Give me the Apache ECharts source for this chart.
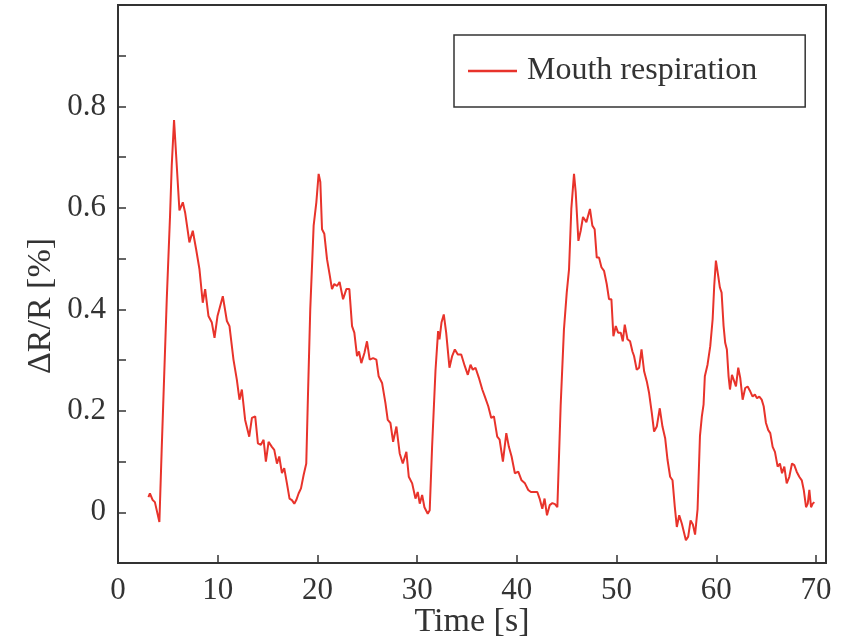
<!DOCTYPE html>
<html>
<head>
<meta charset="utf-8">
<script src="https://cdn.jsdelivr.net/npm/echarts@6/dist/echarts.min.js"></script>
<style>
  html, body { margin: 0; padding: 0; background: #fff; }
  #chart { width: 856px; height: 641px; }
</style>
</head>
<body>
<div id="chart"></div>
<script>
// 时间 (s)
const timeSec = [
  3.05, 3.2, 3.48, 3.7, 4.15, 4.38, 4.55, 4.89, 5.22, 5.39, 5.62, 5.89, 6.16, 6.5, 6.73, 7.16, 7.5, 7.83,
  8.17, 8.5, 8.74, 9.07, 9.41, 9.68, 9.98, 10.18, 10.51, 10.92, 11.18, 11.58, 11.92, 12.18, 12.42, 12.75,
  13.16, 13.43, 13.76, 14.03, 14.33, 14.6, 14.83, 15.1, 15.43, 15.67, 15.94, 16.17, 16.44, 16.67, 16.94,
  17.2, 17.44, 17.68, 17.88, 18.11, 18.35, 18.61, 18.88, 19.05, 19.28, 19.62, 19.89, 20.12, 20.29, 20.46,
  20.69, 20.96, 21.22, 21.46, 21.69, 21.96, 22.22, 22.57, 22.9, 23.2, 23.47, 23.7, 23.97, 24.17, 24.4,
  24.71, 24.97, 25.24, 25.58, 25.91, 26.14, 26.48, 26.82, 27.05, 27.32, 27.59, 27.92, 28.25, 28.56, 28.92,
  29.16, 29.5, 29.83, 30.06, 30.26, 30.5, 30.73, 31.06, 31.26, 31.5, 31.84, 32.1, 32.24, 32.44, 32.67,
  32.91, 33.24, 33.51, 33.78, 34.08, 34.42, 34.78, 35.08, 35.35, 35.58, 35.85, 36.19, 36.53, 36.79, 37.13,
  37.43, 37.7, 38.03, 38.27, 38.6, 38.94, 39.2, 39.47, 39.8, 40.14, 40.47, 40.81, 41.14, 41.41, 41.71,
  42.05, 42.28, 42.55, 42.78, 43.02, 43.29, 43.56, 43.82, 44.06, 44.39, 44.72, 45.0, 45.23, 45.46, 45.73,
  45.9, 46.17, 46.4, 46.63, 46.97, 47.33, 47.57, 47.8, 48.01, 48.24, 48.48, 48.74, 49.01, 49.24, 49.48,
  49.68, 49.92, 50.15, 50.42, 50.62, 50.82, 51.09, 51.35, 51.59, 51.75, 52.02, 52.26, 52.5, 52.76, 53.03,
  53.26, 53.53, 53.76, 54.03, 54.33, 54.6, 54.87, 55.11, 55.37, 55.61, 55.84, 56.04, 56.28, 56.54, 56.71,
  56.95, 57.18, 57.42, 57.65, 57.87, 58.12, 58.36, 58.55, 58.72, 58.85, 59.12, 59.39, 59.63, 59.79, 59.96,
  60.19, 60.36, 60.53, 60.73, 60.89, 61.06, 61.23, 61.37, 61.57, 61.8, 61.97, 62.2, 62.4, 62.64, 62.9,
  63.14, 63.41, 63.64, 63.87, 64.08, 64.31, 64.55, 64.75, 64.98, 65.21, 65.41, 65.65, 65.88, 66.15, 66.38,
  66.59, 66.82, 67.06, 67.32, 67.59, 67.82, 68.06, 68.32, 68.57, 68.77, 69.0, 69.17, 69.33, 69.5, 69.67,
  69.83
]
// ΔR/R (%)
const deltaR = [
  0.030, 0.037, 0.024, 0.020, -0.019, 0.123, 0.222, 0.42, 0.585, 0.684, 0.773, 0.684, 0.595, 0.611, 0.591, 0.532, 0.555, 0.519,
  0.479, 0.413, 0.44, 0.387, 0.374, 0.344, 0.387, 0.384, 0.426, 0.377, 0.367, 0.301, 0.261, 0.222, 0.242, 0.182,
  0.149, 0.186, 0.189, 0.136, 0.133, 0.143, 0.1, 0.139, 0.129, 0.123, 0.096, 0.11, 0.077, 0.087, 0.057,
  0.027, 0.024, 0.017, 0.024, 0.037, 0.047, 0.073, 0.096, 0.23, 0.4, 0.565, 0.611, 0.667, 0.651, 0.558,
  0.549, 0.499, 0.469, 0.44, 0.45, 0.446, 0.454, 0.42, 0.44, 0.44, 0.367, 0.354, 0.308, 0.317, 0.294,
  0.314, 0.337, 0.301, 0.304, 0.301, 0.268, 0.255, 0.215, 0.182, 0.176, 0.139, 0.169, 0.116, 0.096, 0.119,
  0.07, 0.057, 0.027, 0.04, 0.017, 0.034, 0.01, -0.003, 0.004, 0.13, 0.28, 0.357, 0.341, 0.374, 0.39,
  0.354, 0.285, 0.308, 0.321, 0.311, 0.311, 0.288, 0.271, 0.291, 0.281, 0.285, 0.265, 0.242, 0.228, 0.209,
  0.186, 0.189, 0.149, 0.143, 0.1, 0.156, 0.129, 0.11, 0.077, 0.08, 0.063, 0.057, 0.044, 0.04, 0.04,
  0.04, 0.027, 0.007, 0.027, -0.006, 0.014, 0.018, 0.016, 0.01, 0.21, 0.36, 0.433, 0.479, 0.598, 0.667,
  0.631, 0.535, 0.555, 0.582, 0.572, 0.598, 0.565, 0.558, 0.502, 0.502, 0.483, 0.476, 0.45, 0.42, 0.42,
  0.347, 0.367, 0.354, 0.354, 0.337, 0.37, 0.341, 0.337, 0.317, 0.308, 0.281, 0.285, 0.321, 0.278, 0.258,
  0.235, 0.196, 0.159, 0.169, 0.205, 0.169, 0.146, 0.103, 0.07, 0.063, 0.01, -0.029, -0.006, -0.022, -0.02,
  -0.055, -0.048, -0.016, -0.024, -0.044, 0.006, 0.15, 0.189, 0.212, 0.268, 0.291, 0.327, 0.38, 0.446, 0.496,
  0.466, 0.443, 0.433, 0.367, 0.334, 0.321, 0.268, 0.242, 0.271, 0.258, 0.248, 0.285, 0.265, 0.222, 0.245,
  0.248, 0.238, 0.228, 0.232, 0.225, 0.228, 0.222, 0.209, 0.176, 0.162, 0.156, 0.129, 0.119, 0.09, 0.096,
  0.077, 0.09, 0.057, 0.07, 0.096, 0.093, 0.08, 0.07, 0.063, 0.044, 0.01, 0.017, 0.044, 0.01, 0.017,
  0.02
]
// 刻度标签
const yTickLabels = [0, 0.2, 0.4, 0.6, 0.8]
const xTickLabels = [0, 10, 20, 30, 40, 50, 60, 70]

const serif = '"Liberation Serif", "DejaVu Serif", serif'
const axisColor = '#333'
const lineColor = '#e8332b'

let mycharts = echarts.init(document.getElementById('chart'))
mycharts.setOption({
  animation: false,
  grid: {
    left: 118,
    right: 30,
    top: 5,
    bottom: 78,
    outerBoundsMode: 'none',
    show: true,
    borderColor: axisColor,
    borderWidth: 2,
  },
  legend: {
    left: 454,
    top: 35,
    padding: [20, 48, 20, 14],
    borderColor: axisColor,
    borderWidth: 1.5,
    icon: 'rect',
    itemWidth: 49,
    itemHeight: 2.5,
    textStyle: {
      fontFamily: serif,
      fontSize: 32,
      lineHeight: 32,
      color: axisColor,
      padding: [0, 0, 0, 5],
    },
  },
  xAxis: {
    type: 'value',
    min: 0,
    max: 71,
    interval: 10,
    name: 'Time [s]',
    nameLocation: 'middle',
    nameGap: 42,
    nameMoveOverlap: false,
    nameTextStyle: { fontFamily: serif, fontSize: 34, color: axisColor },
    splitLine: { show: false },
    axisLine: { onZero: false, lineStyle: { color: axisColor, width: 2 } },
    axisTick: { inside: true, length: 8, lineStyle: { color: axisColor, width: 1.5 } },
    axisLabel: {
      fontFamily: serif,
      fontSize: 31,
      color: axisColor,
      margin: 12,
      formatter: (v) => (xTickLabels.includes(v) ? String(v) : ''),
    },
  },
  yAxis: {
    type: 'value',
    min: -0.1,
    max: 1.0,
    interval: 0.1,
    name: 'ΔR/R [%]',
    nameLocation: 'middle',
    nameGap: 60,
    nameMoveOverlap: false,
    nameTextStyle: { fontFamily: serif, fontSize: 34, color: axisColor, padding: [0, 44, 0, 0] },
    splitLine: { show: false },
    axisLine: { onZero: false, lineStyle: { color: axisColor, width: 2 } },
    axisTick: { inside: true, length: 8, lineStyle: { color: axisColor, width: 1.5 } },
    axisLabel: {
      fontFamily: serif,
      fontSize: 31,
      color: axisColor,
      margin: 12,
      padding: [6, 0, 0, 0],
      formatter: (v) => {
        const r = Math.round(v * 10) / 10
        return yTickLabels.includes(r) ? String(r) : ''
      },
    },
  },
  series: [
    {
      name: 'Mouth respiration',
      type: 'line',
      data: timeSec.map((t, i) => [t, deltaR[i]]),
      symbol: 'none',
      lineStyle: { width: 2, color: lineColor },
      itemStyle: { color: lineColor },
    },
  ],
})
</script>
</body>
</html>
